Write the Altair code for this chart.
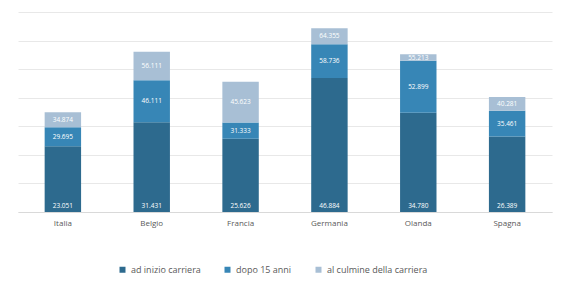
import altair as alt
import pandas as pd

countries = ["Italia", "Belgio", "Francia", "Germania", "Olanda", "Spagna"]
start = [23051, 31431, 25626, 46884, 34780, 26389]
after15 = [29695, 46111, 31333, 58736, 52899, 35461]
peak = [34874, 56111, 45623, 64355, 55213, 40281]
series = ["ad inizio carriera", "dopo 15 anni", "al culmine della carriera"]
colors = ["#2d6a8e", "#3786b6", "#a8bfd5"]


def fmt(v):
    return f"{v:,}".replace(",", ".")


rows = []
for i, c in enumerate(countries):
    bounds = [(0, start[i]), (start[i], after15[i]), (after15[i], peak[i])]
    for j, s in enumerate(series):
        lo, hi = bounds[j]
        rows.append({"paese": c, "serie": s, "lo": lo, "hi": hi,
                     "mid": (lo + hi) / 2, "label": fmt(hi), "ord": j})
df = pd.DataFrame(rows)

x = alt.X("paese:N", sort=countries, title=None,
          scale=alt.Scale(paddingInner=0.59, paddingOuter=0.3),
          axis=alt.Axis(labelAngle=0, labelFontSize=8, labelColor="#595959",
                        labelFont="Open Sans", ticks=False, domainColor="#d9d9d9",
                        labelPadding=7))
yscale = alt.Scale(domain=[0, 70000], nice=False)

bars = alt.Chart(df).mark_bar().encode(
    x=x,
    y=alt.Y("lo:Q", scale=yscale, title=None,
            axis=alt.Axis(labels=False, ticks=False, domain=False, tickCount=7,
                          gridColor="#e8e8e8", gridWidth=1)),
    y2="hi:Q",
    color=alt.Color("serie:N", sort=series,
                    scale=alt.Scale(domain=series, range=colors),
                    legend=alt.Legend(title=None, orient="none", direction="horizontal",
                                      legendX=100, legendY=253, symbolType="square",
                                      symbolSize=36, labelFontSize=9, labelColor="#595959",
                                      labelFont="Open Sans", columnPadding=22,
                                      symbolStrokeWidth=0)),
)

base_lab = alt.Chart(df[df["ord"] == 0]).mark_text(
    color="white", fontSize=6.5, font="Open Sans", baseline="bottom", dy=-3
).encode(x=alt.X("paese:N", sort=countries), y=alt.Y("lo:Q", scale=yscale), text="label:N")

mid_lab = alt.Chart(df[df["ord"] > 0]).mark_text(
    color="white", fontSize=6.5, font="Open Sans", baseline="middle"
).encode(x=alt.X("paese:N", sort=countries), y=alt.Y("mid:Q", scale=yscale), text="label:N")

chart = alt.layer(bars, base_lab, mid_lab).properties(
    width=534, height=200,
    autosize=alt.AutoSizeParams(type="none"),
    padding={"left": 10, "top": 4, "right": 2, "bottom": 68},
    background="white",
).configure_view(stroke=None)

chart.save("out.html", embed_options={"renderer": "svg", "actions": False})
